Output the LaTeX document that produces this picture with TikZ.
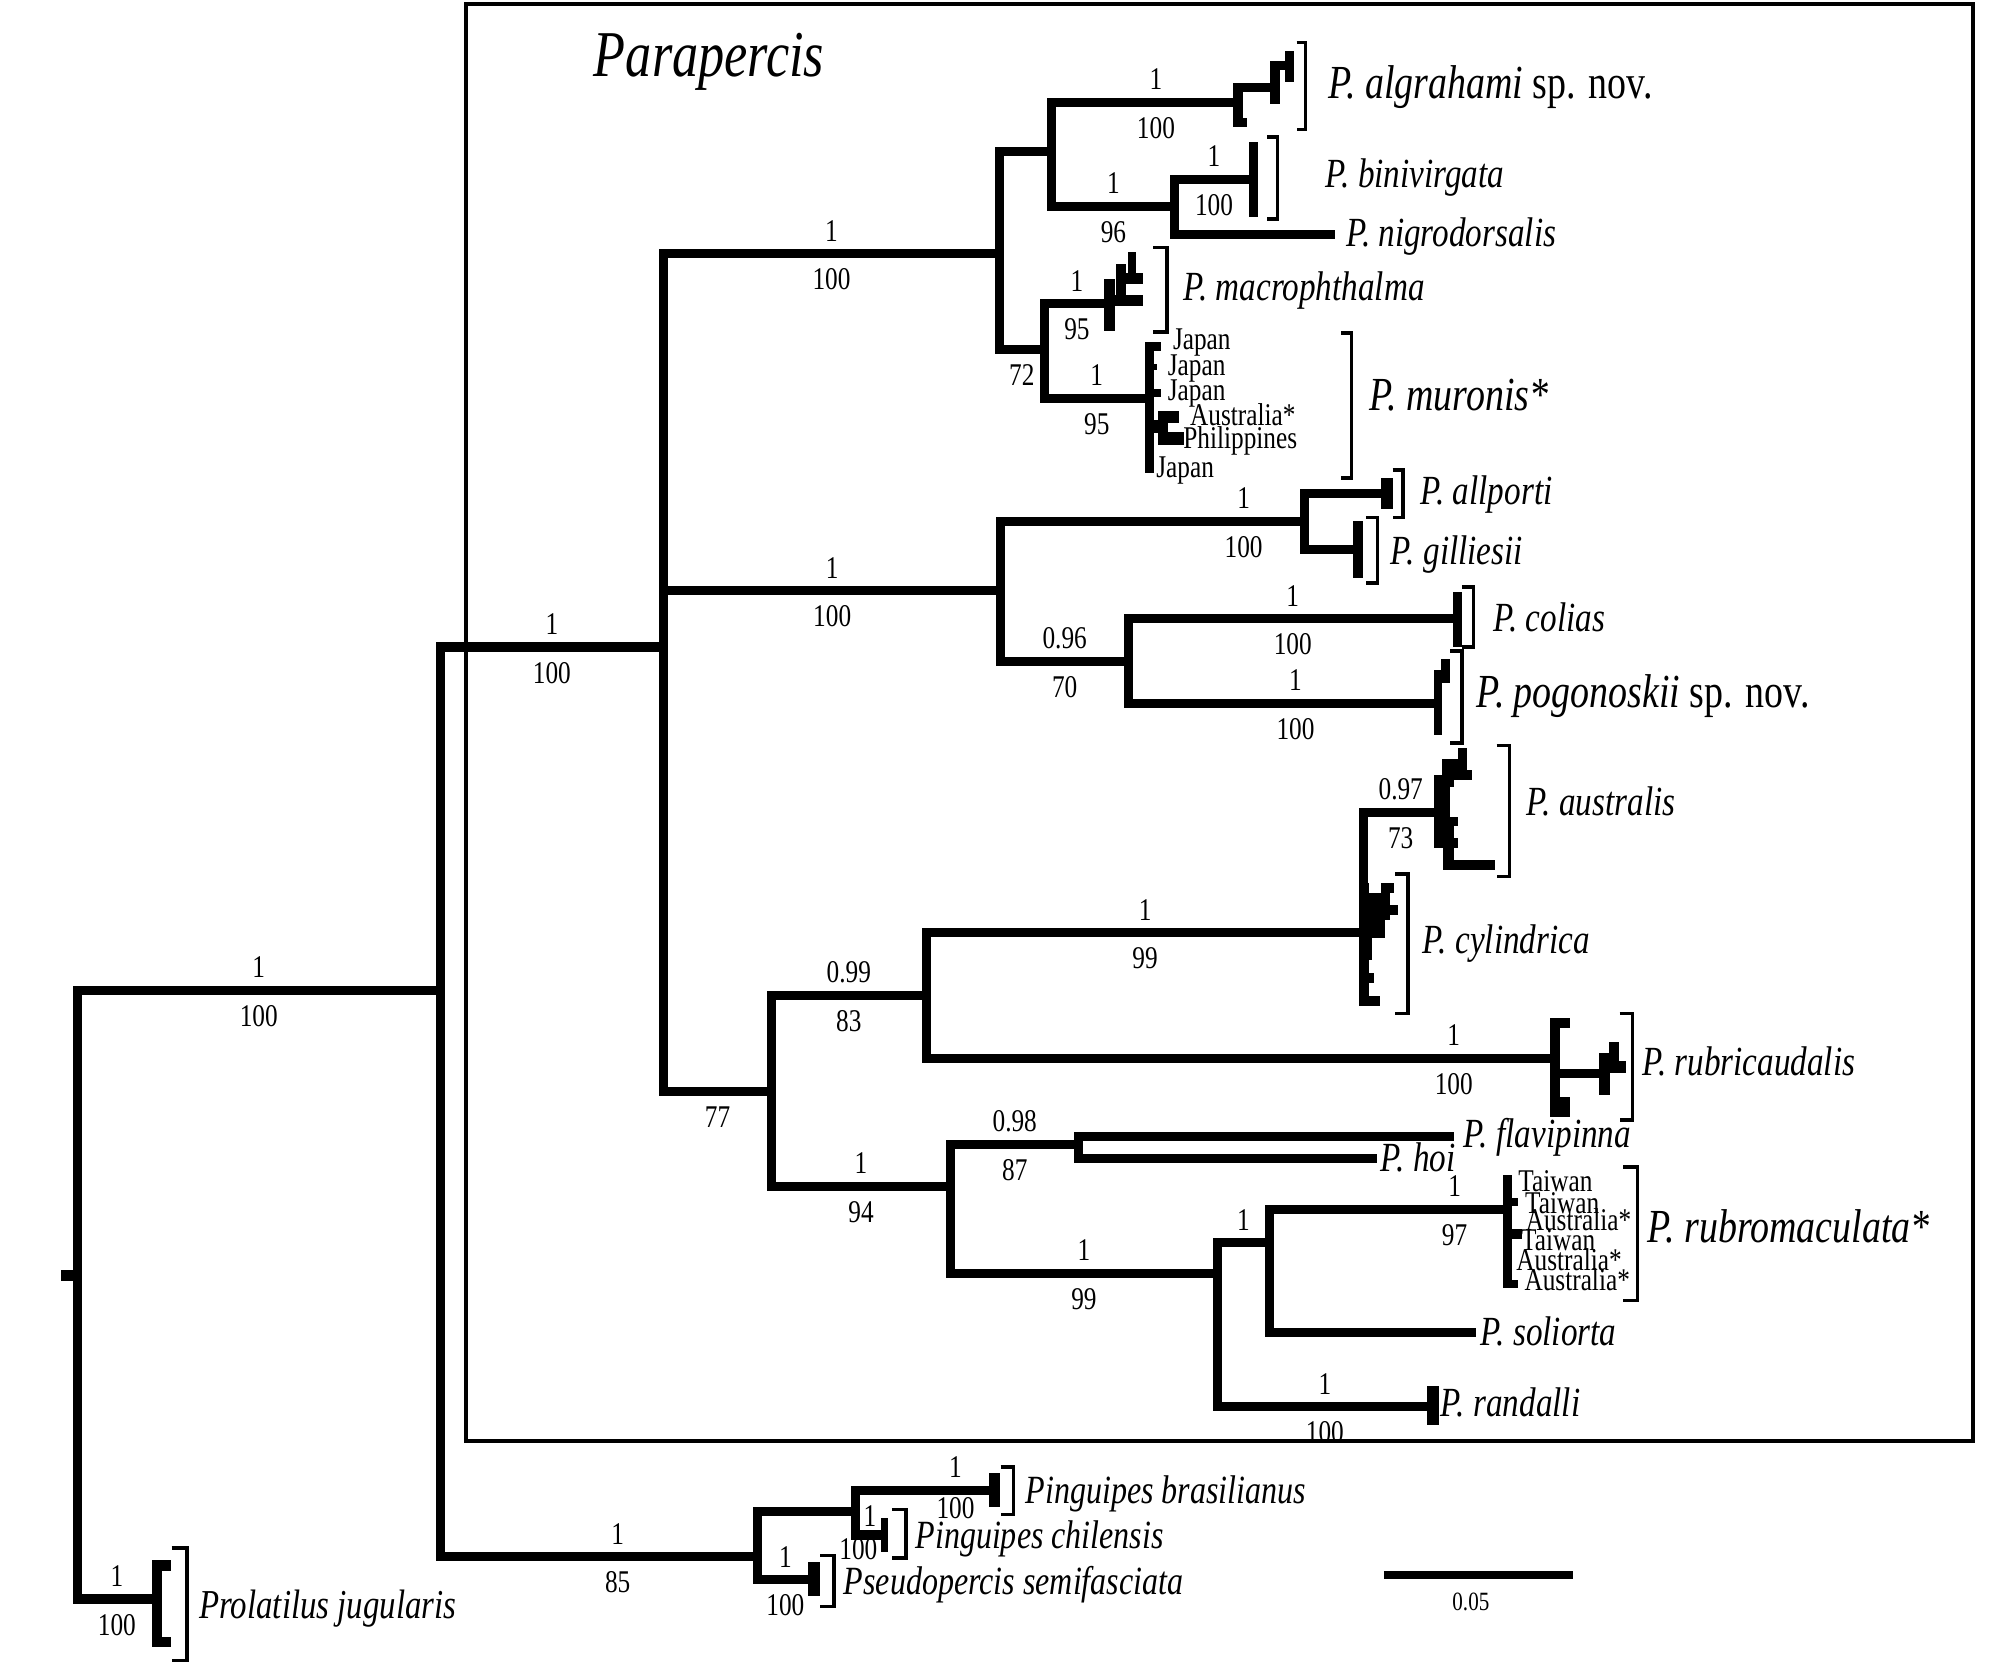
\documentclass[tikz,border=0pt]{standalone}
\usepackage{fontspec}
\setmainfont{Liberation Serif}[FakeStretch=0.8]
\newcommand{\supfont}{\fontsize{9}{9}\selectfont}
\newcommand{\popfont}{\fontsize{9}{9}\selectfont}
\newcommand{\taxfont}{\fontsize{11.8}{12}\selectfont}
\newcommand{\bigtaxfont}{\fontsize{13.5}{14}\selectfont}
\newcommand{\outfont}{\fontsize{11.4}{12}\selectfont}
\tikzset{
  branch/.style={line width=2.6pt},
  clade/.style={line width=1pt},
  frame/.style={line width=1.1pt},
  pp/.style={above=1.3pt, font=\supfont, inner sep=1pt},
  bs/.style={below=2pt, font=\supfont, inner sep=1pt},
  taxon/.style={anchor=west, inner sep=0pt, font=\taxfont, text height=1.6ex, text depth=.25ex},
  bigtaxon/.style={taxon, font=\bigtaxfont},
  outtaxon/.style={taxon, font=\outfont},
  pop/.style={inner sep=0pt, font=\popfont},
}
\begin{document}
\begin{tikzpicture}[x=0.012813cm, y=-0.012813cm]
    \useasboundingbox (0,0) rectangle (1568,1304);

    % 1. Khung Parapercis
    \draw[frame] (364,3) rectangle (1540,1125);
    \node[anchor=west, inner sep=0pt, font=\fontsize{18.6}{19}\selectfont\itshape] (lab-para) at (463,48) {Parapercis};

    % 2. Cac nut trong
    \coordinate (root) at (60.5,995);
    \coordinate (nA) at (343.5,773);
    \coordinate (nB) at (518,505);
    \coordinate (nC) at (780,198);
    \coordinate (nD) at (821,118);
    \coordinate (nE) at (917,161);
    \coordinate (nF) at (815,273);
    \coordinate (nG) at (781,461);
    \coordinate (nH) at (1018,407);
    \coordinate (nI) at (881,516);
    \coordinate (nJ) at (602,852);
    \coordinate (nK) at (723,777);
    \coordinate (nL) at (1064.5,728);
    \coordinate (nM) at (742,926);
    \coordinate (nN) at (842,893);
    \coordinate (nO) at (950,994);
    \coordinate (nP) at (991,970);
    \coordinate (nQ) at (591,1215);
    \coordinate (nS) at (668,1180);

    % 3. Cac la
    \coordinate (alg) at (966,80);
    \coordinate (bin) at (978,140);
    \coordinate (nig) at (1042,183);
    \coordinate (mac) at (866,237);
    \coordinate (mur) at (897,311);
    \coordinate (all) at (1082,385);
    \coordinate (gil) at (1060,429);
    \coordinate (col) at (1137,483);
    \coordinate (pog) at (1122,549);
    \coordinate (aus) at (1122,634);
    \coordinate (cyl) at (1064.5,785);
    \coordinate (rbc) at (1213,826);
    \coordinate (fla) at (1135,887);
    \coordinate (hoi) at (1075,904);
    \coordinate (rbm) at (1176,944);
    \coordinate (sol) at (1152,1040);
    \coordinate (ran) at (1118,1098);
    \coordinate (bra) at (776,1163);
    \coordinate (chi) at (690,1198);
    \coordinate (pse) at (635,1233);
    \coordinate (pro) at (122,1248);

    % 4. Cac nhanh
    \fill (47.7,991) rectangle (63.7,999.5);
    \draw[branch] (root) |- node[pp,pos=.75] (p1) {1} node[bs,pos=.75] (b1) {100} (nA);
    \draw[branch] (root) |- node[pp,pos=.75] (p2) {1} node[bs,pos=.75] (b2) {100} (pro);
    \draw[branch] (nA) |- node[pp,pos=.75] (p3) {1} node[bs,pos=.75] (b3) {100} (nB);
    \draw[branch] (nA) |- node[pp,pos=.78] (p4) {1} node[bs,pos=.78] (b4) {85} (nQ);
    \draw[branch] (nB) |- node[pp,pos=.75] (p5) {1} node[bs,pos=.75] (b5) {100} (nC);
    \draw[branch] (nB) |- node[pp,pos=.75] (p6) {1} node[bs,pos=.75] (b6) {100} (nG);
    \draw[branch] (nB) |- node[bs,pos=.75] (b7) {77} (nJ);
    \draw[branch] (nC) |- (nD);
    \draw[branch] (nC) |- node[bs,pos=.75] (b8) {72} (nF);
    \draw[branch] (nD) |- node[pp,pos=.78] (p9) {1} node[bs,pos=.78] (b9) {100} (alg);
    \draw[branch] (nD) |- node[pp,pos=.75] (p10) {1} node[bs,pos=.75] (b10) {96} (nE);
    \draw[branch] (nE) |- node[pp,pos=.75] (p11) {1} node[bs,pos=.75] (b11) {100} (bin);
    \draw[branch] (nE) |- (nig);
    \draw[branch] (nF) |- node[pp,pos=.75] (p12) {1} node[bs,pos=.75] (b12) {95} (mac);
    \draw[branch] (nF) |- node[pp,pos=.75] (p13) {1} node[bs,pos=.75] (b13) {95} (mur);
    \draw[branch] (nG) |- node[pp,pos=.9] (p14) {1} node[bs,pos=.9] (b14) {100} (nH);
    \draw[branch] (nG) |- node[pp,pos=.75] (p15) {0.96} node[bs,pos=.75] (b15) {70} (nI);
    \draw[branch] (nH) |- (all);
    \draw[branch] (nH) |- (gil);
    \draw[branch] (nI) |- node[pp,pos=.75] (p16) {1} node[bs,pos=.75] (b16) {100} (col);
    \draw[branch] (nI) |- node[pp,pos=.77] (p17) {1} node[bs,pos=.77] (b17) {100} (pog);
    \draw[branch] (nJ) |- node[pp,pos=.75] (p18) {0.99} node[bs,pos=.75] (b18) {83} (nK);
    \draw[branch] (nJ) |- node[pp,pos=.75] (p19) {1} node[bs,pos=.75] (b19) {94} (nM);
    \draw[branch] (nK) |- node[pp,pos=.75] (p20) {1} node[bs,pos=.75] (b20) {99} (nL);
    \draw[branch] (nK) |- node[pp,pos=.92] (p21) {1} node[bs,pos=.92] (b21) {100} (rbc);
    \draw[branch] (nL) |- node[pp,pos=.75] (p22) {0.97} node[bs,pos=.75] (b22) {73} (aus);
    \draw[branch] (nL) -- (cyl);
    \draw[branch] (nM) |- node[pp,pos=.75] (p23) {0.98} node[bs,pos=.75] (b23) {87} (nN);
    \draw[branch] (nM) |- node[pp,pos=.75] (p24) {1} node[bs,pos=.75] (b24) {99} (nO);
    \draw[branch] (nN) |- (fla);
    \draw[branch] (nN) |- (hoi);
    \draw[branch] (nO) |- node[pp,pos=.75] (p25) {1} (nP);
    \draw[branch] (nO) |- node[pp,pos=.75] (p26) {1} node[bs,pos=.75] (b26) {100} (ran);
    \draw[branch] (nP) |- node[pp,pos=.89] (p27) {1} node[bs,pos=.89] (b27) {97} (rbm);
    \draw[branch] (nP) |- (sol);
    \draw[branch] (nQ) |- (nS);
    \draw[branch] (nQ) |- node[pp,pos=.75] (p28) {1} node[bs,pos=.75] (b28) {100} (pse);
    \draw[branch] (nS) |- node[pp,pos=.86] (p29) {1} node[bs,pos=.86,yshift=2.3pt] (b29) {100} (bra);
    \draw[branch] (nS) |- node[pp,pos=.75,yshift=-1.2pt] (p30) {1} node[bs,pos=.75,xshift=-3.3pt,yshift=3.4pt] (b30) {100} (chi);

    % 5. Cac nhom ngon
    % algrahami
    \fill (962,64.8) rectangle (993,71.5);
    \fill (962,64.8) rectangle (970,99);
    \fill (962,92) rectangle (973,99);
    \fill (991,48) rectangle (999,81);
    \fill (999,48) rectangle (1010,55);
    \fill (1003,40) rectangle (1010,64);
    % binivirgata
    \fill (975,111) rectangle (982,169);
    % macrophthalma
    \fill (862,218) rectangle (870,258);
    \fill (870,230) rectangle (892,239);
    \fill (871,206) rectangle (879,230);
    \fill (879,213) rectangle (892,222);
    \fill (880,197) rectangle (887,213);
    % muronis
    \fill (893.6,267) rectangle (900.5,369);
    \fill (900.5,267) rectangle (906.5,274);
    \fill (900.5,284) rectangle (903,289);
    \fill (900.5,304) rectangle (906,310);
    \fill (900.5,328) rectangle (905,338);
    \fill (904,321) rectangle (911.4,347);
    \fill (911,321) rectangle (920.3,330);
    \fill (911,337.5) rectangle (924,347);
    % allporti, gilliesii, colias, pogonoskii
    \fill (1078,373) rectangle (1087,397);
    \fill (1056,407) rectangle (1064,451);
    \fill (1134,462) rectangle (1141,505);
    \fill (1119,523) rectangle (1125.5,574);
    \fill (1125,514) rectangle (1132,533);
    % australis
    \fill (1138.3,584) rectangle (1145.2,601);
    \fill (1125.5,592.6) rectangle (1138.3,601);
    \fill (1134.8,601) rectangle (1148.7,608.8);
    \fill (1125.5,592.6) rectangle (1134.8,614);
    \fill (1119.3,604.9) rectangle (1131.4,637.4);
    \fill (1119.3,637.4) rectangle (1134.8,662.1);
    \fill (1134.8,637.4) rectangle (1138.3,645);
    \fill (1134.8,654) rectangle (1138.3,662);
    \fill (1126.2,660.8) rectangle (1134.8,679);
    \fill (1126.2,671.3) rectangle (1166.8,679);
    % cylindrica
    \fill (1061,689.4) rectangle (1068.7,785);
    \fill (1068.7,697) rectangle (1084.5,718);
    \fill (1077.5,689.4) rectangle (1088,697.2);
    \fill (1082.7,706.3) rectangle (1090.8,714.1);
    \fill (1068.7,718) rectangle (1081,732.3);
    \fill (1068.7,732) rectangle (1070.5,749.2);
    \fill (1068.7,759.6) rectangle (1072.2,767.4);
    \fill (1061,777.3) rectangle (1076.8,785.1);
    % rubricaudalis
    \fill (1209.7,794.8) rectangle (1217.6,871.5);
    \fill (1217.6,794.8) rectangle (1225.3,802);
    \fill (1217.6,856) rectangle (1225,871.5);
    \fill (1217.6,834) rectangle (1251.5,841.5);
    \fill (1248,822) rectangle (1256.6,854.6);
    \fill (1256,813) rectangle (1263.6,837.6);
    \fill (1263.6,828) rectangle (1269,837.6);
    % rubromaculata
    \fill (1173,917) rectangle (1180,1005.4);
    \fill (1180,935) rectangle (1184.6,941.6);
    \fill (1180,959.6) rectangle (1188,967.4);
    \fill (1180,999) rectangle (1184.6,1005.4);
    % randalli, outgroups
    \fill (1114,1082) rectangle (1123,1112);
    \fill (772,1150) rectangle (780.5,1176);
    \fill (687.6,1185) rectangle (693.3,1211);
    \fill (630.6,1219) rectangle (639.7,1246);
    \fill (118.5,1217.5) rectangle (126.8,1285.2);
    \fill (126.8,1217.5) rectangle (133.8,1225.8);
    \fill (126.8,1277.4) rectangle (133.8,1285.2);

    % 6. Ngoac vuong
    \draw[clade] (1012,33) -| (1019,101) -- (1012,101);
    \draw[clade] (989,107) -| (997,171) -- (989,171);
    \draw[clade] (900,193) -| (911,259) -- (900,259);
    \draw[clade] (1047,260) -| (1055,373) -- (1047,373);
    \draw[clade] (1087,367) -| (1095,404) -- (1087,404);
    \draw[clade] (1066,404) -| (1075,455) -- (1066,455);
    \draw[clade] (1141,458) -| (1150,505) -- (1141,505);
    \draw[clade] (1132,508) -| (1141,580) -- (1132,580);
    \draw[clade] (1168,582) -| (1178,684) -- (1168,684);
    \draw[clade] (1089,682) -| (1099,791) -- (1089,791);
    \draw[clade] (1264,791) -| (1274,874) -- (1264,874);
    \draw[clade] (1267,911) -| (1278,1015) -- (1267,1015);
    \draw[clade] (781,1145) -| (791,1182) -- (781,1182);
    \draw[clade] (696,1178) -| (707,1216) -- (696,1216);
    \draw[clade] (640,1214) -| (651,1254) -- (640,1254);
    \draw[clade] (134,1208) -| (146,1296) -- (134,1296);

    % 7. Ten loai
    \node[bigtaxon] (t-alg) at (1036,68) {\textit{P. algrahami} sp. nov.};
    \node[taxon] (t-bin) at (1034,138) {\textit{P. binivirgata}};
    \node[taxon] (t-nig) at (1050,184) {\textit{P. nigrodorsalis}};
    \node[taxon] (t-mac) at (923,226) {\textit{P. macrophthalma}};
    \node[bigtaxon] (t-mur) at (1068,312) {\textit{P. muronis*}};
    \node[taxon] (t-all) at (1108,385) {\textit{P. allporti}};
    \node[taxon] (t-gil) at (1085,432) {\textit{P. gilliesii}};
    \node[taxon] (t-col) at (1165,484) {\textit{P. colias}};
    \node[bigtaxon] (t-pog) at (1152,544) {\textit{P. pogonoskii} sp. nov.};
    \node[taxon] (t-aus) at (1191,628) {\textit{P. australis}};
    \node[taxon] (t-cyl) at (1110,736) {\textit{P. cylindrica}};
    \node[taxon] (t-rbc) at (1281,831) {\textit{P. rubricaudalis}};
    \node[taxon] (t-fla) at (1142,887) {\textit{P. flavipinna}};
    \node[taxon] (t-hoi) at (1077,906) {\textit{P. hoi}};
    \node[bigtaxon] (t-rbm) at (1285,961) {\textit{P. rubromaculata*}};
    \node[taxon] (t-sol) at (1155,1042) {\textit{P. soliorta}};
    \node[taxon] (t-ran) at (1124,1097) {\textit{P. randalli}};
    \node[outtaxon] (t-bra) at (800,1165) {\textit{Pinguipes brasilianus}};
    \node[outtaxon] (t-chi) at (714,1200) {\textit{Pinguipes chilensis}};
    \node[outtaxon] (t-pse) at (658,1236) {\textit{Pseudopercis semifasciata}};
    \node[outtaxon, font=\fontsize{11.7}{12}\selectfont] (t-pro) at (155,1255) {\textit{Prolatilus jugularis}};

    % 8. Quan the
    \node[pop] (m1) at (938,267) {Japan};
    \node[pop] (m2) at (934,287.5) {Japan};
    \node[pop] (m3) at (934,307) {Japan};
    \node[pop] (m4) at (970,324) {Australia*};
    \node[pop] (m5) at (968,344) {Philippines};
    \node[pop] (m6) at (925,367) {Japan};
    \node[pop] (r1) at (1214,922.2) {Taiwan};
    \node[pop] (r2) at (1219.3,939.2) {Taiwan};
    \node[pop] (r3) at (1232,952.2) {Australia*};
    \node[pop] (r4) at (1216.2,967.8) {Taiwan};
    \node[pop] (r5) at (1224.6,983.4) {Australia*};
    \node[pop] (r6) at (1231,998.5) {Australia*};

    % 9. Thuoc ty le
    \coordinate (sb1) at (1080,1229);
    \coordinate (sb2) at (1228,1229);
    \draw[line width=2.2pt] (sb1) -- (sb2);
    \node[font=\fontsize{7.5}{8}\selectfont] (sb) at (1148,1250) {0.05};
\end{tikzpicture}
\end{document}
